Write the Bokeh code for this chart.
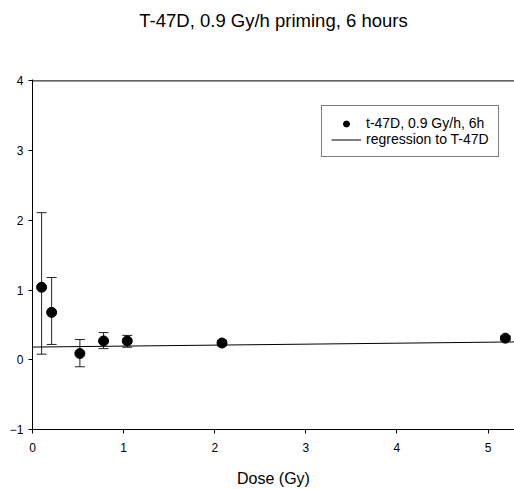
from bokeh.plotting import figure
from bokeh.models import (Range1d, ColumnDataSource, Whisker, TeeHead, Legend, LegendItem,
                          FixedTicker, LinearAxis, Title, Span)
from bokeh.embed import file_html
from bokeh.resources import INLINE

# data
dose = [0.10, 0.21, 0.52, 0.78, 1.04, 2.08, 5.19]
mean = [1.04, 0.68, 0.09, 0.27, 0.27, 0.24, 0.31]
err_upper = [2.11, 1.18, 0.29, 0.39, 0.35, 0.28, 0.34]
err_lower = [0.08, 0.22, -0.10, 0.16, 0.18, 0.20, 0.28]
reg_intercept = 0.182
reg_slope = 0.014
reg_x = [0.0, 5.3]
reg_y = [reg_intercept + reg_slope * x for x in reg_x]
x_ticks = [0, 1, 2, 3, 4, 5]
y_ticks = [-1, 0, 1, 2, 3, 4]
y_top = 4
title_text = "T-47D, 0.9 Gy/h priming, 6 hours"

FONT = "Liberation Sans"

p = figure(width=514, height=489, output_backend="svg", toolbar_location=None,
           x_range=Range1d(0, 5.29), y_range=Range1d(-1, 4.02),
           min_border_left=32, min_border_right=0, min_border_top=79, min_border_bottom=60)
p.background_fill_color = "white"
p.border_fill_color = "white"
p.outline_line_color = None
p.grid.visible = False

bottom_ax = p.below[0]
left_ax = p.left[0]

# thin invisible top axis (keeps spacing)
top = LinearAxis(ticker=FixedTicker(ticks=[0]), axis_line_color=None,
                 major_tick_line_color=None, minor_tick_line_color=None,
                 major_label_text_font_size="1px", major_label_text_alpha=0,
                 major_label_standoff=0, major_tick_out=0, major_tick_in=0)
p.add_layout(top, "above")

# spacer between frame and title, then the title itself
p.add_layout(Title(text=" ", text_font_size="1px", standoff=46), "above")
p.add_layout(Title(text=title_text, text_font=FONT, text_font_size="18.5px",
                   text_font_style="normal", text_color="black", align="center",
                   standoff=0), "above")

# top frame line at y = 4
p.add_layout(Span(location=y_top, dimension="width", line_color="black", line_width=1))

for ax in (bottom_ax, left_ax):
    ax.axis_line_color = "black"
    ax.major_tick_line_color = "black"
    ax.minor_tick_line_color = None
    ax.major_tick_out = 4
    ax.major_tick_in = 0
    ax.major_label_text_font = FONT
    ax.major_label_text_font_size = "12px"
    ax.major_label_text_color = "black"
    ax.axis_label_text_font = FONT
    ax.axis_label_text_font_style = "normal"
    ax.axis_label_text_color = "black"

bottom_ax.ticker = FixedTicker(ticks=x_ticks)
left_ax.ticker = FixedTicker(ticks=y_ticks)
bottom_ax.axis_label = "Dose (Gy)"
bottom_ax.axis_label_text_font_size = "16px"
bottom_ax.major_label_standoff = 9
bottom_ax.axis_label_standoff = 15
left_ax.major_label_standoff = 5

src = ColumnDataSource(dict(x=dose, y=mean, up=err_upper, lo=err_lower))

reg = p.line(reg_x, reg_y, line_color="black", line_width=1)

wh = Whisker(source=src, base="x", upper="up", lower="lo", line_color="#222222", line_width=1,
             upper_head=TeeHead(size=10, line_color="#222222", line_width=1),
             lower_head=TeeHead(size=10, line_color="#222222", line_width=1))
p.add_layout(wh)

pts = p.scatter("x", "y", source=src, size=10, fill_color="black", line_color="black")

legend = Legend(items=[LegendItem(label="t-47D, 0.9 Gy/h, 6h", renderers=[pts]),
                       LegendItem(label="regression to T-47D", renderers=[reg])],
                location=(289, 272))
legend.label_text_font = FONT
legend.label_text_font_size = "14px"
legend.label_text_color = "black"
legend.border_line_color = "black"
legend.border_line_width = 1
legend.background_fill_alpha = 1
legend.padding = 9
legend.spacing = 0
legend.margin = 0
legend.glyph_width = 30
legend.glyph_height = 15
legend.label_height = 15
legend.label_standoff = 5
p.add_layout(legend, "center")

open("out.html", "w").write(file_html(p, INLINE))
